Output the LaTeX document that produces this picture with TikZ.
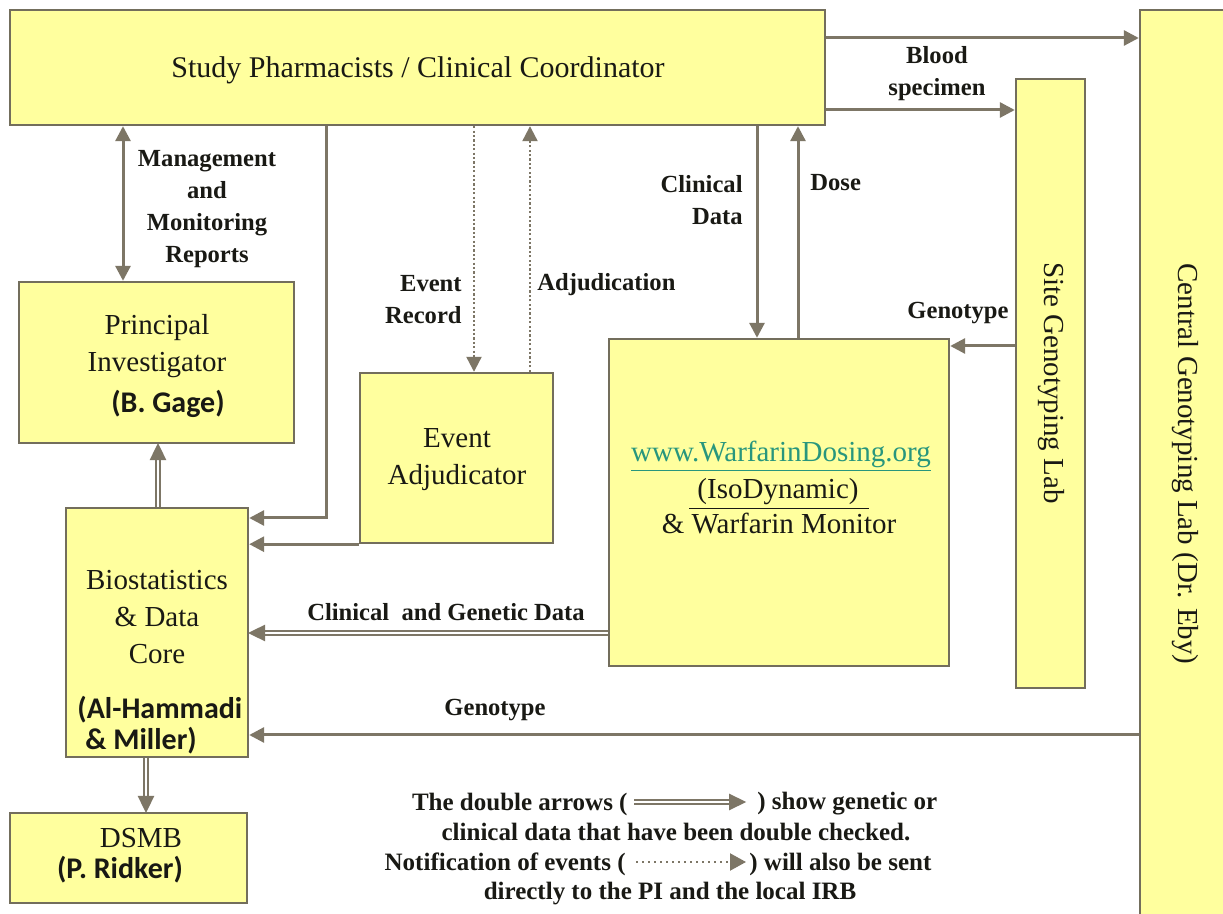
\documentclass[tikz,border=0pt]{standalone}
\usepackage{fontspec}
\setmainfont{Liberation Serif}
\newfontfamily\calib{Carlito}
\usetikzlibrary{arrows.meta,fit,decorations.markings}
\definecolor{boxfill}{RGB}{255,255,158}
\definecolor{boxline}{RGB}{115,110,92}
\definecolor{arrcol}{RGB}{125,118,102}
\definecolor{txt}{RGB}{25,25,20}
\definecolor{linkcol}{RGB}{40,150,125}
\begin{document}
\begin{tikzpicture}[x=0.5pt,y=-0.5pt,
  box/.style={draw=boxline, fill=boxfill, line width=1.2pt, inner sep=0pt},
  boxt/.style={font=\fontsize{14.5}{18.5}\selectfont, align=center, inner sep=0pt, text=txt},
  lab/.style={font=\bfseries\fontsize{12.3}{16}\selectfont, align=center, inner sep=0pt, text=txt},
  leg/.style={font=\bfseries\fontsize{12.5}{15}\selectfont, inner sep=0pt, text=txt},
  sans/.style={font=\calib\bfseries\fontsize{15}{17}\selectfont, inner sep=0pt, text=txt},
  arr/.style={draw=arrcol, line width=1.5pt, -{Triangle[length=7.5pt,width=7.5pt]}},
  dotarr/.style={draw=arrcol, line width=1.1pt, dash pattern=on 1.1pt off 1.1pt, -{Triangle[length=7.5pt,width=7.5pt]}},
  dbl/.style={draw=arrcol, line width=0.9pt, double=white, double distance=1.4pt, shorten >=7pt,
    postaction={decorate, decoration={markings, mark=at position 1 with {\fill[arrcol] (0.6pt,0pt) -- (-8pt,4.2pt) -- (-8pt,-4.2pt) -- cycle;}}}}
]
\path[use as bounding box] (0,0) rectangle (1223,914);
\clip (0,0) rectangle (1223,914);
\fill[white] (0,0) rectangle (1223,914);

% boxes
\node[box, fit={(10,10)(825,125)}] (top) {};
\node[box, fit={(1140,10)(1240,930)}] (central) {};
\node[box, fit={(1016,79)(1085,688)}] (site) {};
\node[box, fit={(19,282)(294,443)}] (pi) {};
\node[box, fit={(360,373)(553,543)}] (ea) {};
\node[box, fit={(609,339)(949,666)}] (warf) {};
\node[box, fit={(66,508)(248,757)}] (bio) {};
\node[box, fit={(10,813)(247,903)}] (dsmb) {};

% box texts
\node[boxt, font=\fontsize{15}{18}\selectfont] (toptxt) at (418,70) {Study Pharmacists / Clinical Coordinator};
\node[boxt, rotate=-90] (centtxt) at (1185,464) {Central Genotyping Lab (Dr. Eby)};
\node[boxt, rotate=-90] (sitetxt) at (1051,383) {Site Genotyping Lab};
\node[boxt] (pitxt) at (157,346.5) {Principal\\Investigator};
\node[sans] (pinm) at (168,404) {(B. Gage)};
\node[boxt] (eatxt) at (457,459.5) {Event\\Adjudicator};
\node[boxt] (biotxt) at (157,617) {Biostatistics\\\& Data\\Core};
\node[sans, anchor=west] (bionm1) at (77,710) {(Al-Hammadi};
\node[sans, anchor=west] (bionm2) at (85,741) {\& Miller)};
\node[boxt] (dsmbtxt) at (141,838) {DSMB};
\node[sans] (dsmbnm) at (120,870) {(P. Ridker)};
\node[boxt, text=linkcol] (wlink) at (781,456) {\underline{www.WarfarinDosing.org}};
\node[boxt] (wiso) at (779,494) {\underline{\hspace{4pt}(IsoDynamic)\hspace{5pt}}};
\node[boxt] (wmon) at (779,524) {\& Warfarin Monitor};

% named coordinates
\coordinate (yA) at (0,38);
\coordinate (yB) at (0,110);
\coordinate (xM) at (123,0);
\coordinate (xT) at (326,0);
\coordinate (yT) at (0,518);
\coordinate (xER) at (474,0);
\coordinate (xAd) at (530,0);
\coordinate (xCD) at (757,0);
\coordinate (xDo) at (798,0);
\coordinate (yG) at (0,346);
\coordinate (yCG) at (0,633);
\coordinate (yG2) at (0,735);
\coordinate (xBP) at (158,0);
\coordinate (xBD) at (146,0);

% connectors
\draw[arr] (top.east |- yA) -- (central.west |- yA);
\draw[arr] (top.east |- yB) -- (site.west |- yB);
\draw[arr, {Triangle[length=7.5pt,width=7.5pt]}-{Triangle[length=7.5pt,width=7.5pt]}] (top.south -| xM) -- (pi.north -| xM);
\draw[arr] (top.south -| xT) |- (bio.east |- yT);
\draw[arr] (ea.south west) -- (bio.east |- ea.south west);
\draw[dotarr] (top.south -| xER) -- (ea.north -| xER);
\draw[dotarr] (ea.north -| xAd) -- (top.south -| xAd);
\draw[arr] (top.south -| xCD) -- (warf.north -| xCD);
\draw[arr] (warf.north -| xDo) -- (top.south -| xDo);
\draw[arr] (site.west |- yG) -- (warf.east |- yG);
\draw[dbl] (warf.west |- yCG) -- (bio.east |- yCG);
\draw[arr] (central.west |- yG2) -- (bio.east |- yG2);
\draw[dbl] (bio.north -| xBP) -- (pi.south -| xBP);
\draw[dbl] (bio.south -| xBD) -- (dsmb.north -| xBD);

% connector labels
\node[lab] (lmgmt) at (207,209.5) {Management\\and\\Monitoring\\Reports};
\node[lab] (lblood) at (937,74) {Blood\\specimen};
\node[lab, anchor=east, align=right] (lcd) at (743,200) {Clinical\\Data};
\node[lab, anchor=west] (ldose) at (810,183) {Dose};
\node[lab, anchor=east, align=right] (ler) at (462,300) {Event\\Record};
\node[lab, anchor=west] (ladj) at (537,285) {Adjudication};
\node[lab] (lgen1) at (958,313) {Genotype};
\node[lab] (lcg) at (446,612) {Clinical\ \ and Genetic Data};
\node[lab] (lgen2) at (495,710) {Genotype};

% legend
\node[leg, anchor=east] (l1a) at (628,804) {The double arrows (};
\coordinate (la1) at (634,802);
\coordinate (la2) at (745,802);
\draw[dbl] (la1) -- (la2);
\node[leg, anchor=west] (l1b) at (757,804) {) show genetic or};
\node[leg] (l2) at (676,832) {clinical data that have been double checked.};
\node[leg, anchor=east] (l3a) at (626,864) {Notification of events (};
\coordinate (la3) at (636,862);
\coordinate (la4) at (746,862);
\draw[dotarr, dash pattern=on 1pt off 2pt, -{Triangle[length=8pt,width=8.5pt]}] (la3) -- (la4);
\node[leg, anchor=west] (l3b) at (749,864) {) will also be sent};
\node[leg] (l4) at (670,894) {directly to the PI and the local IRB};
\end{tikzpicture}
\end{document}
